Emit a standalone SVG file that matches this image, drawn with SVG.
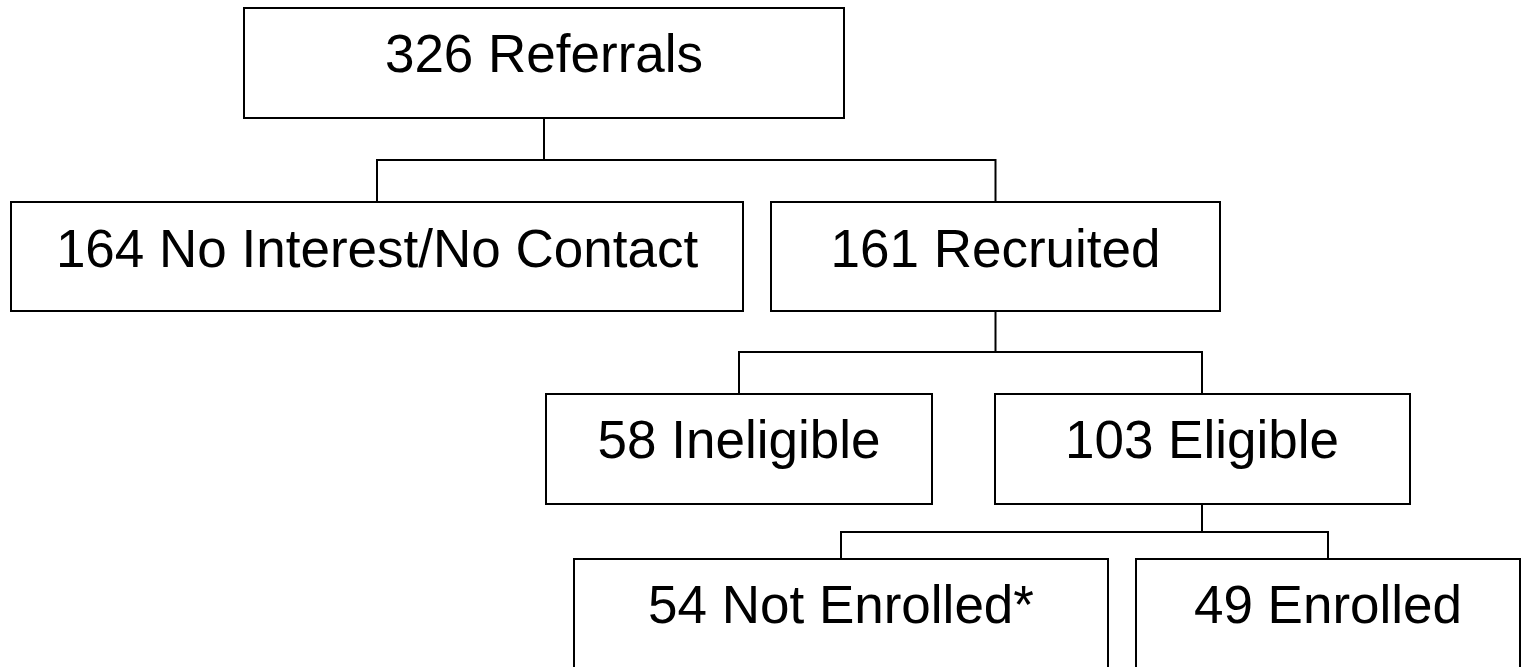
<svg xmlns="http://www.w3.org/2000/svg" width="1522" height="667" viewBox="0 0 1522 667">
<style>
.box{fill:#fff;stroke:#000;stroke-width:2}
.lbl{font-family:"Liberation Sans",Arial,sans-serif;font-size:53px;fill:#000;text-anchor:middle}
.con{fill:none;stroke:#000;stroke-width:2}
</style>
<rect width="1522" height="667" fill="#fff"/>
<g id="connectors">
<path class="con" d="M544 118V160M377 202V160H995.5V202"/>
<path class="con" d="M995.5 311V352M739 394V352H1202V394"/>
<path class="con" d="M1202 504V532M841 559V532H1328V559"/>
</g>
<g id="n1"><rect class="box" x="244" y="8" width="600" height="110"/><text class="lbl" x="544" y="72">326 Referrals</text></g>
<g id="n2"><rect class="box" x="11" y="202" width="732" height="109"/><text class="lbl" x="377" y="267">164 No Interest/No Contact</text></g>
<g id="n3"><rect class="box" x="771" y="202" width="449" height="109"/><text class="lbl" x="995.5" y="267">161 Recruited</text></g>
<g id="n4"><rect class="box" x="546" y="394" width="386" height="110"/><text class="lbl" x="739" y="458">58 Ineligible</text></g>
<g id="n5"><rect class="box" x="995" y="394" width="415" height="110"/><text class="lbl" x="1202" y="458">103 Eligible</text></g>
<g id="n6"><rect class="box" x="574" y="559" width="534" height="140"/><text class="lbl" x="841" y="623">54 Not Enrolled*</text></g>
<g id="n7"><rect class="box" x="1136" y="559" width="384" height="140"/><text class="lbl" x="1328" y="623">49 Enrolled</text></g>
</svg>
